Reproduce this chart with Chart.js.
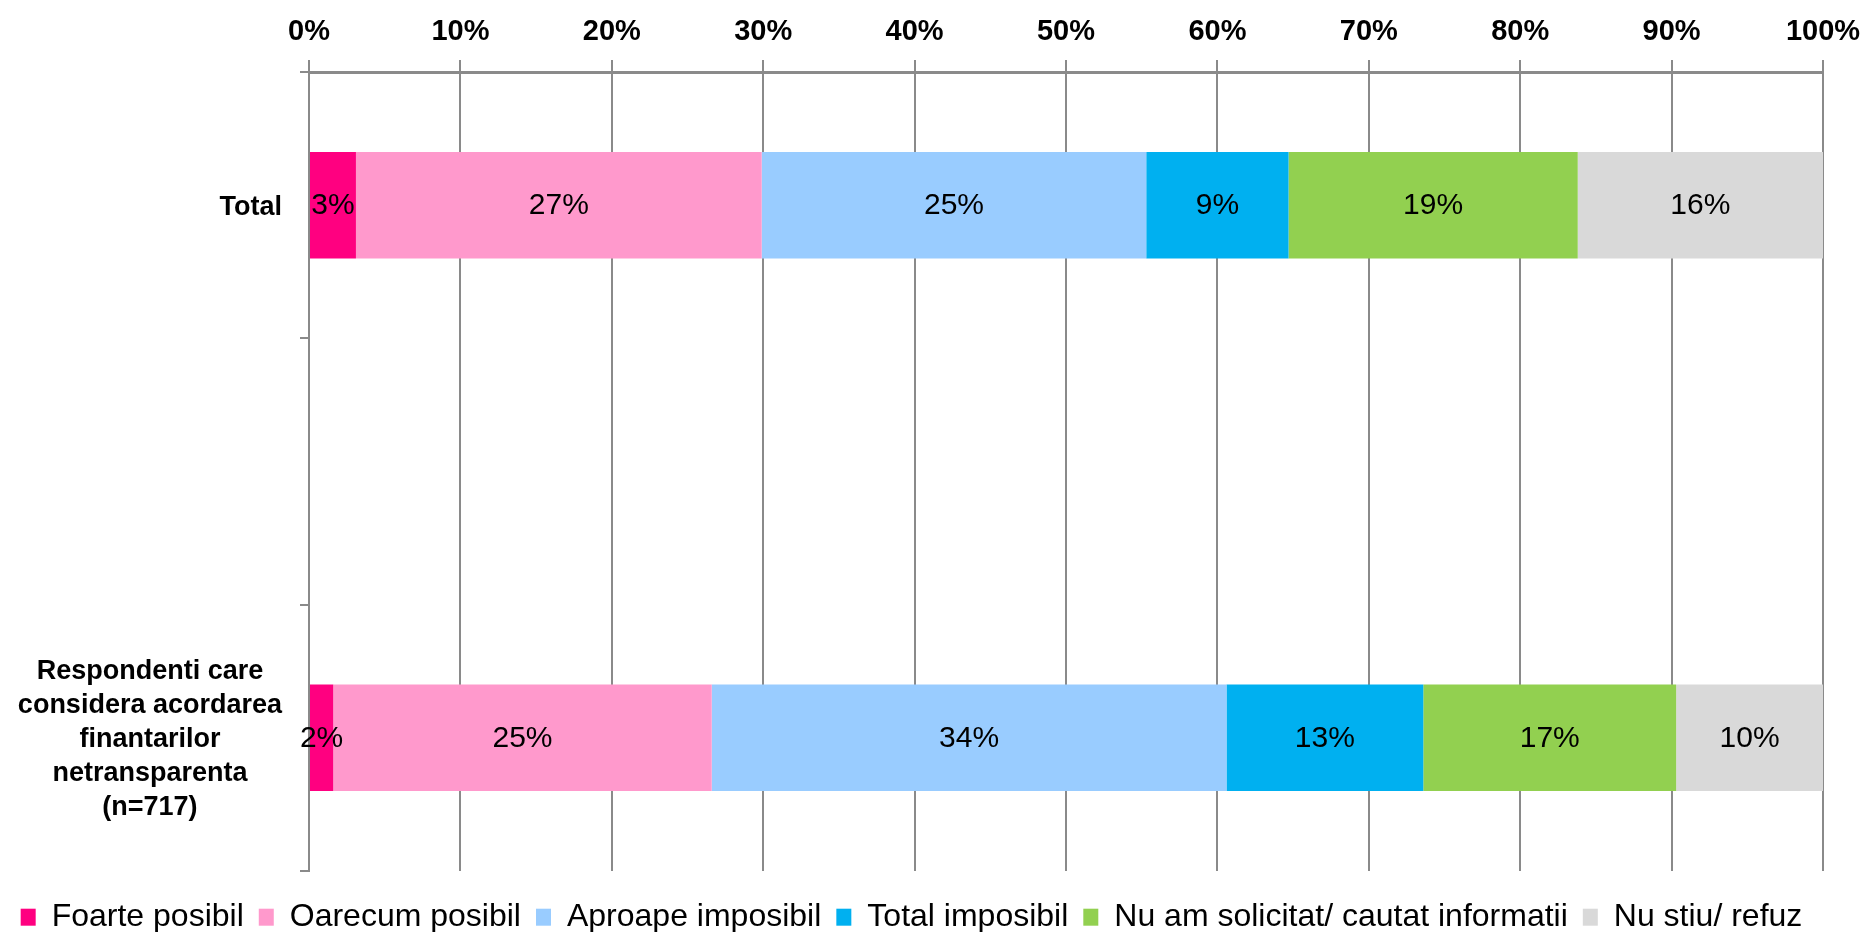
<!DOCTYPE html>
<html>
<head>
<meta charset="utf-8">
<script src="https://cdn.jsdelivr.net/npm/chart.js@4.4.1/dist/chart.umd.min.js"></script>
<style>
html, body { margin: 0; padding: 0; background: #fff; }
</style>
</head>
<body>
<canvas id="chart" width="1865" height="932"></canvas>
<script>
// ---------------- DATA ----------------
const categories = [
  ["Total"],
  [""],
  ["Respondenti care", "considera acordarea", "finantarilor", "netransparenta", "(n=717)"]
];

const seriesNames = [
  "Foarte posibil",
  "Oarecum posibil",
  "Aproape imposibil",
  "Total imposibil",
  "Nu am solicitat/ cautat informatii",
  "Nu stiu/ refuz"
];

const seriesColors = ["#FF0080", "#FF99CC", "#99CCFF", "#00B0F0", "#92D050", "#D9D9D9"];

// values per category: Total, (blank), Respondenti
const foartePosibil    = [3.1, null, 1.6];
const oarecumPosibil   = [26.8, null, 25.0];
const aproapeImposibil = [25.4, null, 34.0];
const totalImposibil   = [9.4, null, 13.0];
const nuAmSolicitat    = [19.1, null, 16.7];
const nuStiu           = [16.2, null, 9.7];

const seriesValues = [foartePosibil, oarecumPosibil, aproapeImposibil, totalImposibil, nuAmSolicitat, nuStiu];

const FONT = '"Liberation Sans", Arial, sans-serif';
const GRID = "#8a8a8a";

// ---------------- PLUGINS ----------------
// percentage labels in the middle of each segment
const barLabels = {
  id: "barLabels",
  afterDatasetsDraw(chart) {
    const ctx = chart.ctx;
    ctx.save();
    ctx.font = "30px " + FONT;
    ctx.fillStyle = "#000";
    ctx.textAlign = "center";
    ctx.textBaseline = "middle";
    chart.data.datasets.forEach((ds, di) => {
      const meta = chart.getDatasetMeta(di);
      meta.data.forEach((bar, i) => {
        const v = ds.data[i];
        if (v == null) return;
        ctx.fillText(Math.round(v) + "%", (bar.x + bar.base) / 2, bar.y + 1);
      });
    });
    ctx.restore();
  }
};

// category labels: lines centered inside a block that sits right next to the axis
const catLabels = {
  id: "catLabels",
  afterDraw(chart) {
    const y = chart.scales.y;
    const ctx = chart.ctx;
    ctx.save();
    ctx.font = "bold 27px " + FONT;
    ctx.fillStyle = "#000";
    ctx.textAlign = "center";
    ctx.textBaseline = "middle";
    categories.forEach((lines, i) => {
      const cy = y.getPixelForValue(i);
      const w = Math.max(...lines.map(l => ctx.measureText(l).width));
      const cx = y.right - 27 - w / 2;
      lines.forEach((l, k) => {
        ctx.fillText(l, cx, cy + 2 + (k - (lines.length - 1) / 2) * 34);
      });
    });
    ctx.restore();
  }
};

// ---------------- CHART ----------------
const datasets = seriesNames.map((name, i) => ({
  label: name,
  data: seriesValues[i],
  backgroundColor: seriesColors[i],
  borderWidth: 0,
  categoryPercentage: 1,
  barPercentage: 0.4
}));

new Chart(document.getElementById("chart"), {
  type: "bar",
  data: { labels: categories, datasets: datasets },
  plugins: [barLabels, catLabels],
  options: {
    indexAxis: "y",
    responsive: false,
    animation: false,
    layout: { padding: { left: 0, right: 42, top: 0, bottom: 0 } },
    scales: {
      x: {
        position: "top",
        stacked: true,
        min: 0,
        max: 100,
        afterFit(s) { s.height = 72; s.paddingRight = 0; s.paddingLeft = 0; },
        ticks: {
          stepSize: 10,
          padding: 11,
          color: "#000",
          font: { family: FONT, size: 29, weight: "bold" },
          callback: v => v + "%"
        },
        grid: { color: GRID, lineWidth: 2, tickLength: 12, tickColor: GRID },
        border: { display: true, color: GRID, width: 3 }
      },
      y: {
        stacked: true,
        afterFit(s) { s.width = 309; },
        ticks: { display: false },
        grid: { drawOnChartArea: false, tickLength: 9, color: GRID, lineWidth: 2 },
        border: { display: true, color: GRID, width: 2 }
      }
    },
    plugins: {
      tooltip: { enabled: false },
      legend: {
        position: "bottom",
        maxHeight: 61,
        title: { display: true, text: "", padding: { top: 14, bottom: 0 }, font: { size: 1 } },
        labels: {
          color: "#000",
          font: { family: FONT, size: 32 },
          boxWidth: 15,
          boxHeight: 17,
          padding: 15
        }
      }
    }
  }
});
</script>
</body>
</html>
